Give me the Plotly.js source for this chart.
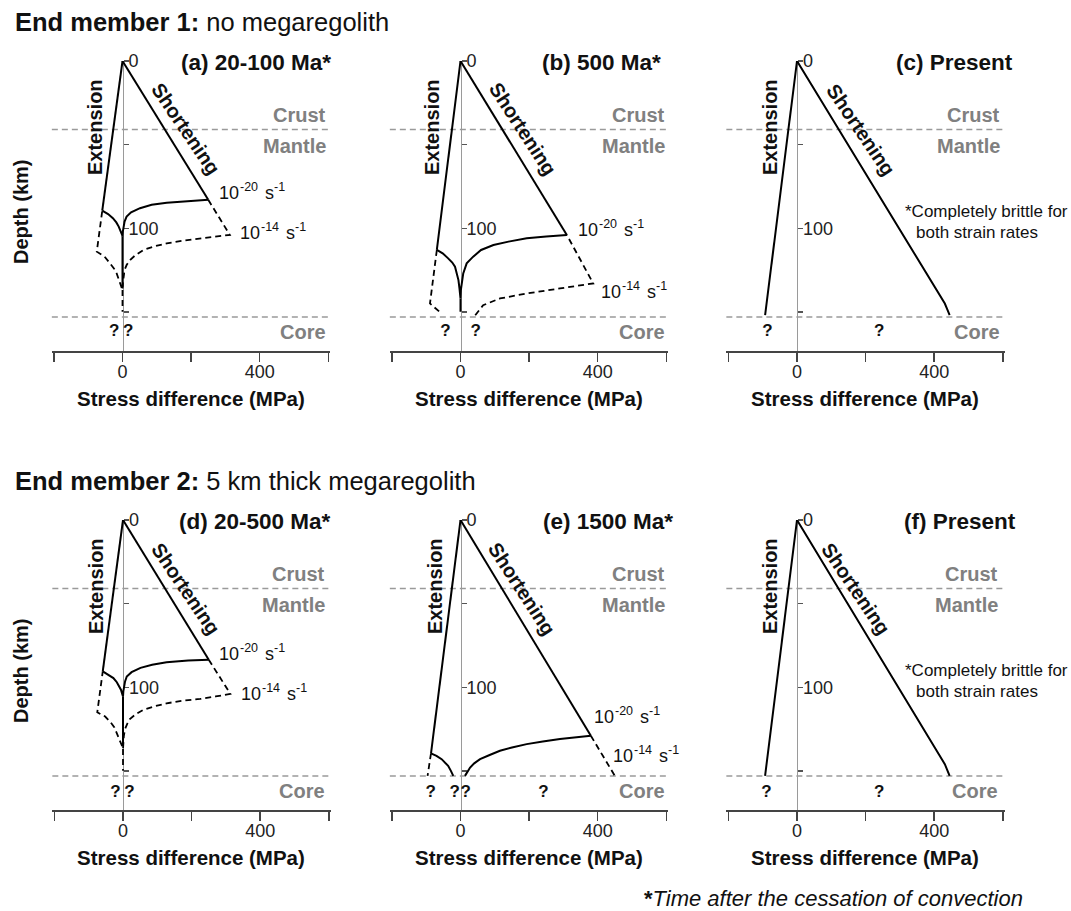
<!DOCTYPE html>
<html><head><meta charset="utf-8">
<script src="https://cdn.plot.ly/plotly-3.0.1.min.js"></script>
<style>html,body{margin:0;padding:0;background:#fff;}#chart{width:1071px;height:911px;}</style>
</head><body><div id="chart"></div>
<script>
// ---------------- data (stress difference in MPa, depth in km) ----------------
const XTICKS_LABELLED = [0, 400];
const XTICKS_MINOR = [-200, 200, 600];
const YTICKS_LABELLED = [0, 100];
const YTICKS_MINOR = [50, 150];
const YTICKS_ALL = [0, 50, 100, 150];
const CRUST_DEPTH = 41, CORE_DEPTH = 153;
const PANEL_TITLES = ['(a) 20-100 Ma*', '(b) 500 Ma*', '(c) Present', '(d) 20-500 Ma*', '(e) 1500 Ma*', '(f) Present'];
const RATE_EXPONENTS = ['-20', '-14'];

// (a) 20-100 Ma, no megaregolith
const a_extX = [0, -59], a_extY = [0, 89.5];
const a_shoX = [0, 250], a_shoY = [0, 83];
const a_d20X = [-59, -42, -28, -18, -11, -6, -3, -1, 0, 1, 2.5, 6, 12, 25, 51, 85, 129, 190, 250, null, 0, 0];
const a_d20Y = [89.5, 91.5, 94, 96.5, 99, 101, 103, 104, 105, 102, 99, 96, 93, 90.5, 88, 86, 84.7, 83.8, 83, null, 105, 135];
const a_d14X = [250, 313, 270, 226, 175, 129, 90, 61, 38, 22, 12, 6, 2.5, 1, 0, -3, -7, -11, -17, -25, -36, -52, -75, -59, null, 0, 0];
const a_d14Y = [83, 104, 105, 106, 107.5, 109, 111, 113, 116, 119, 122, 125, 129, 133, 137, 135, 133, 130, 127, 124, 121, 117, 114, 89.5, null, 137, 150];
const a_qX = [-24, 17];

// (b) 500 Ma
const b_extX = [0, -69], b_extY = [0, 113];
const b_shoX = [0, 310], b_shoY = [0, 104];
const b_d20X = [-69, -52, -36, -24, -16, -10, -6, -3, -1, 0, 1, 3, 8, 18, 37, 60, 96, 140, 193, 250, 310, null, 0, 0];
const b_d20Y = [113, 115, 118, 120.5, 123, 127, 131, 136, 140, 142, 137, 133, 127, 121, 117, 113, 110, 108, 106, 105, 104, null, 142, 150];
const b_d14X = [-69, -89, -55, null, 43, 66, 115, 193, 290, 387, 310];
const b_d14Y = [113, 145, 151, null, 152, 146, 142, 139, 136, 133, 104];
const b_qX = [-44, 44];

// (c) Present
const c_extX = [0, -93], c_extY = [0, 152];
const c_shoX = [0, 431, 439, 445], c_shoY = [0, 145, 149, 152];
const c_qX = [-86, 240];

// (d) 20-500 Ma, 5 km megaregolith
const d_extX = [0, -59], d_extY = [0, 90.5];
const d_shoX = [0, 250], d_shoY = [0, 83.5];
const d_d20X = [-59, -42, -28, -18, -11, -6, -3, -1, 0, 1, 2.5, 6, 11, 25, 51, 85, 127, 190, 250, null, 0, 0];
const d_d20Y = [90.5, 92.5, 94.5, 97, 99.5, 101.5, 103.5, 104.5, 105.5, 102.5, 99.5, 96.5, 93.6, 91, 88.4, 86.5, 85, 84, 83.5, null, 105.5, 135];
const d_d14X = [250, 313, 270, 225, 175, 127, 90, 59, 38, 20, 12, 6, 2.5, 1, 0, -3, -7, -11, -17, -25, -36, -52, -75, -59, null, 0, 0];
const d_d14Y = [83.5, 104, 105.5, 107, 108, 109.6, 111.5, 113.6, 116, 119, 122, 125, 129, 133, 137, 135, 133, 130, 127, 124, 121, 117.5, 115, 90.5, null, 137, 150];
const d_qX = [-22, 19];

// (e) 1500 Ma
const e_extX = [0, -86], e_extY = [0, 139.5];
const e_shoX = [0, 380], e_shoY = [0, 129];
const e_d20X = [-86, -70, -55, -45, -36, -28, -21, null, 13, 20, 28, 40, 57, 85, 115, 150, 193, 240, 290, 380];
const e_d20Y = [139.5, 141, 143, 145, 147, 150, 153, null, 153, 150.5, 148, 145.5, 143, 140.5, 138, 136, 134, 132.5, 131, 129];
const e_d14X = [-86, -96, null, 380, 450];
const e_d14Y = [139.5, 153, null, 129, 153];
const e_qX = [-87, -17, 15, 242];

// (f) Present
const f_extX = [0, -93], f_extY = [0, 153];
const f_shoX = [0, 431, 439, 445], f_shoY = [0, 146, 150, 153];
const f_qX = [-89, 240];

// ---------------- layout geometry ----------------
const W = 1071, H = 911;
const FONT = 'Liberation Sans, Arial, Helvetica, sans-serif';
const PX_PER_MPA = 0.343;
const X_RANGE = [-206, 605];
const Y_RANGE = [173.4, 0];
const PLOT_W = (X_RANGE[1] - X_RANGE[0]) * PX_PER_MPA;
const PLOT_H = 290;
const fx = p => p / W;
const fy = p => 1 - p / H;

const panels = [
  {x0: 122.5, top: 61, tR: 333, lR: 328, ext: [95, 127], sho: [186, 129], ang: 56, q: a_qX, qD: 162,
   brittle: [[a_extX, a_extY], [a_shoX, a_shoY]], d20: [a_d20X, a_d20Y], d14: [a_d14X, a_d14Y],
   rates: [[275, 79], [337, 103]]},
  {x0: 460.5, top: 61, tR: 663, lR: 667, ext: [432, 127], sho: [523, 129], ang: 57, q: b_qX, qD: 162,
   brittle: [[b_extX, b_extY], [b_shoX, b_shoY]], d20: [b_d20X, b_d20Y], d14: [b_d14X, b_d14Y],
   rates: [[338, 101], [405, 138]]},
  {x0: 797, top: 61, tR: 1015, lR: 1002, ext: [770, 127], sho: [861, 130], ang: 56, q: c_qX, qD: 162,
   brittle: [[c_extX, c_extY], [c_shoX, c_shoY]], note: [982, 222]},
  {x0: 123, top: 520, tR: 333, lR: 327, ext: [96, 586], sho: [186, 589], ang: 56, q: d_qX, qD: 163,
   brittle: [[d_extX, d_extY], [d_shoX, d_shoY]], d20: [d_d20X, d_d20Y], d14: [d_d14X, d_d14Y],
   rates: [[275, 80], [337, 104]]},
  {x0: 460.5, top: 520, tR: 675, lR: 667, ext: [435, 586], sho: [522, 589], ang: 57, q: e_qX, qD: 163,
   brittle: [[e_extX, e_extY], [e_shoX, e_shoY]], d20: [e_d20X, e_d20Y], d14: [e_d14X, e_d14Y],
   rates: [[382, 118], [440, 141]]},
  {x0: 797, top: 520, tR: 1018, lR: 1000, ext: [770, 586], sho: [856, 589], ang: 56, q: f_qX, qD: 163,
   brittle: [[f_extX, f_extY], [f_shoX, f_shoY]], note: [982, 681]},
];

const traces = [];
const layout = {
  width: W, height: H, margin: {l: 0, r: 0, t: 0, b: 0},
  paper_bgcolor: '#fff', plot_bgcolor: 'rgba(0,0,0,0)', showlegend: false,
  font: {family: FONT, color: '#111'},
  shapes: [], annotations: []
};

function pAnn(text, px, py, o) {
  const a = {xref: 'paper', yref: 'paper', x: fx(px), y: fy(py), text: text, showarrow: false,
    xanchor: 'center', yanchor: 'middle', font: {family: FONT, size: 20, color: '#111', weight: 'bold'}};
  return Object.assign(a, o || {});
}

// strain-rate label "10^exp s^-1" built from plain text pieces
function rateLabel(xa, ya, x, y, exp) {
  const pieces = [
    {t: '10', dx: 0, dy: 0, s: 18},
    {t: exp, dx: 21, dy: 6, s: 12.5},
    {t: 's', dx: 46, dy: 0, s: 18},
    {t: '-1', dx: 55, dy: 6, s: 12.5}
  ];
  pieces.forEach(pc => layout.annotations.push({
    xref: xa, yref: ya, x: x, y: y, text: pc.t, showarrow: false, xanchor: 'left', yanchor: 'middle',
    xshift: pc.dx, yshift: pc.dy, font: {family: FONT, size: pc.s, color: '#111'}
  }));
}

panels.forEach((p, i) => {
  const n = i + 1;
  const xs = n === 1 ? '' : String(n);
  const xa = 'x' + xs, ya = 'y' + xs;
  const left = p.x0 - (0 - X_RANGE[0]) * PX_PER_MPA;
  const xDom = [fx(left), fx(left + PLOT_W)];
  const yDom = [fy(p.top + PLOT_H), fy(p.top)];

  layout['xaxis' + xs] = {
    domain: xDom, range: X_RANGE, anchor: ya, showline: true, linecolor: '#444', linewidth: 1.5,
    ticks: 'outside', ticklen: 9, tickwidth: 1.5, tickcolor: '#444', ticklabelstandoff: -5,
    tickmode: 'array', tickvals: XTICKS_LABELLED,
    minor: {tickmode: 'array', tickvals: XTICKS_MINOR, ticks: 'outside', ticklen: 9, tickwidth: 1.5, tickcolor: '#444', showgrid: false},
    tickfont: {family: FONT, size: 18, color: '#222'}, showgrid: false, zeroline: false, fixedrange: true
  };
  layout['yaxis' + xs] = {
    domain: yDom, range: Y_RANGE, anchor: 'free', position: fx(p.x0), side: 'right',
    showline: true, linecolor: '#9a9a9a', linewidth: 1.3, layer: 'below traces',
    ticks: 'outside', ticklen: 5, tickwidth: 1.3, tickcolor: '#555', ticklabelstandoff: -4,
    tickmode: 'array', tickvals: YTICKS_LABELLED,
    minor: {tickmode: 'array', tickvals: YTICKS_MINOR, ticks: 'outside', ticklen: 5, tickwidth: 1.3, tickcolor: '#555', showgrid: false},
    tickfont: {family: FONT, size: 18, color: '#222'}, showgrid: false, zeroline: false, fixedrange: true
  };
  layout['yaxis' + (n + 6)] = {
    overlaying: ya, range: Y_RANGE, anchor: 'free', position: fx(p.x0), side: 'left',
    showline: false, ticks: 'outside', ticklen: 5, tickwidth: 1.3, tickcolor: '#555',
    tickmode: 'array', tickvals: YTICKS_ALL,
    showticklabels: false, showgrid: false, zeroline: false, fixedrange: true, layer: 'below traces'
  };

  // crust/mantle and mantle/core boundaries
  [CRUST_DEPTH, CORE_DEPTH].forEach(d => layout.shapes.push({
    type: 'line', xref: xa + ' domain', yref: ya, x0: 0, x1: 1, y0: d, y1: d, layer: 'below',
    line: {color: '#9a9a9a', width: 1.5, dash: '6px,4px'}
  }));

  const base = {xaxis: xa, yaxis: ya, mode: 'lines', hoverinfo: 'skip', showlegend: false, connectgaps: false};
  if (p.d14) traces.push(Object.assign({x: p.d14[0], y: p.d14[1], line: {color: '#000', width: 1.8, dash: '6px,4px'}}, base));
  if (p.d20) traces.push(Object.assign({x: p.d20[0], y: p.d20[1], line: {color: '#000', width: 2}}, base));
  p.brittle.forEach(b => traces.push(Object.assign({x: b[0], y: b[1], line: {color: '#000', width: 2}}, base)));

  // question marks below the core boundary
  traces.push({x: p.q, y: p.q.map(() => p.qD), xaxis: xa, yaxis: ya, mode: 'text', text: p.q.map(() => '?'),
    textposition: 'middle center', textfont: {family: FONT, size: 17, color: '#111', weight: 'bold'}, cliponaxis: false,
    hoverinfo: 'skip', showlegend: false});

  // panel title
  layout.annotations.push(pAnn(PANEL_TITLES[i], p.tR, p.top + 1, {xanchor: 'right', font: {family: FONT, size: 22.5, color: '#111', weight: 'bold'}}));
  // layer labels
  const grey = {family: FONT, size: 20, color: '#808080', weight: 'bold'};
  [['Crust', 32], ['Mantle', 51], ['Core', 162]].forEach(t => layout.annotations.push({
    xref: 'paper', yref: ya, x: fx(p.lR), y: t[1], text: t[0], showarrow: false,
    xanchor: 'right', yanchor: 'middle', font: grey
  }));
  // Extension / Shortening
  layout.annotations.push(pAnn('Extension', p.ext[0], p.ext[1], {textangle: -90}));
  layout.annotations.push(pAnn('Shortening', p.sho[0], p.sho[1], {textangle: p.ang}));
  // strain-rate labels
  if (p.rates) p.rates.forEach((r, k) => rateLabel(xa, ya, r[0], r[1], RATE_EXPONENTS[k]));
  if (p.note) {
    layout.annotations.push(pAnn('*Completely brittle for', p.note[0] + 5, p.note[1] - 10.5,
      {font: {family: FONT, size: 17, color: '#111', weight: 'normal'}}));
    layout.annotations.push(pAnn('both strain rates', p.note[0] - 5, p.note[1] + 10.5,
      {font: {family: FONT, size: 17, color: '#111', weight: 'normal'}}));
  }
  // axis titles
  layout.annotations.push(pAnn('Stress difference (MPa)', left + PLOT_W / 2, p.top + 337,
    {font: {family: FONT, size: 20.5, color: '#111', weight: 'bold'}}));
  if (n === 1 || n === 4) layout.annotations.push(pAnn('Depth (km)', 21, p.top + 151, {textangle: -90}));
});

layout.annotations.push(pAnn('<b>End member 1:</b> no megaregolith', 13, 22, {xanchor: 'left', font: {family: FONT, size: 25.5, color: '#111', weight: 'normal'}}));
layout.annotations.push(pAnn('<b>End member 2:</b> 5 km thick megaregolith', 13, 481, {xanchor: 'left', font: {family: FONT, size: 25.5, color: '#111', weight: 'normal'}}));
layout.annotations.push(pAnn('<b>*</b><i>Time after the cessation of convection</i>', 1025, 898, {xanchor: 'right', font: {family: FONT, size: 22, color: '#111', weight: 'normal'}}));

Plotly.newPlot('chart', traces, layout, {staticPlot: true, displayModeBar: false});
</script>
</body></html>
